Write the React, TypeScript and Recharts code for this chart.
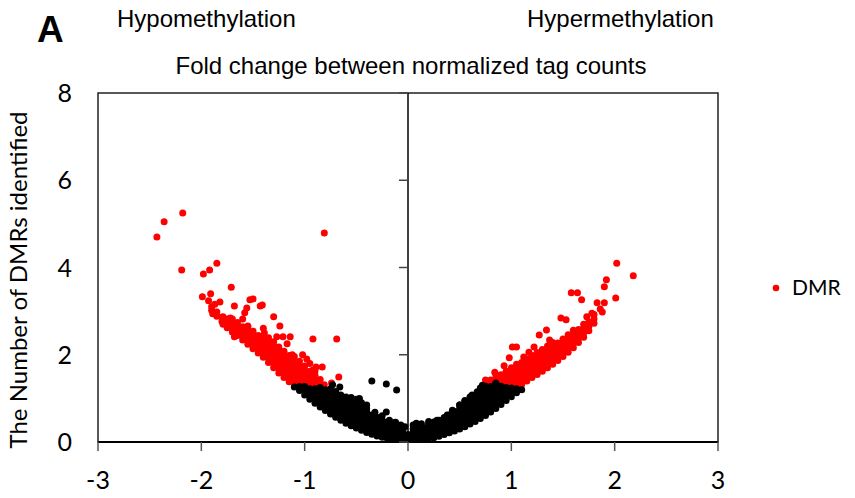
import React from 'react';
import { ScatterChart, Scatter, XAxis, YAxis, ReferenceLine, ReferenceArea } from 'recharts';

// chart frame
const W = 855;
const H = 498;
const MARGIN = { top: 93, right: 137, bottom: 16, left: 38 };
const Y_AXIS_W = 60;
const X_AXIS_H = 40;
const PLOT_LEFT = MARGIN.left + Y_AXIS_W;
const PLOT_RIGHT = W - MARGIN.right;
const ZERO_X = (PLOT_LEFT + PLOT_RIGHT) / 2;

const xTicks = [-3, -2, -1, 0, 1, 2, 3];
const yTicks = [0, 2, 4, 6, 8];

const titleText = 'Fold change between normalized tag counts';
const leftHeader = 'Hypomethylation';
const rightHeader = 'Hypermethylation';
const yLabel = 'The Number of DMRs identified';
const panelLetter = 'A';
const seriesName = 'DMR';

// [log fold change, value]
const blackLeft: [number, number][] = [
  [-1.1, 1.26],
  [-1.05, 1.18], [-1.05, 1.27],
  [-1.0, 1.08], [-1.0, 1.2], [-1.0, 1.27],
  [-0.95, 0.98], [-0.95, 1.1], [-0.95, 1.22],
  [-0.9, 0.89], [-0.9, 1.0], [-0.9, 1.12], [-0.9, 1.22],
  [-0.85, 0.8], [-0.85, 0.92], [-0.85, 1.04], [-0.85, 1.16], [-0.85, 1.25],
  [-0.8, 0.72], [-0.8, 0.84], [-0.8, 0.96], [-0.8, 1.08], [-0.8, 1.2],
  [-0.75, 0.64], [-0.75, 0.76], [-0.75, 0.88], [-0.75, 1.0], [-0.75, 1.12], [-0.75, 1.22],
  [-0.7, 0.57], [-0.7, 0.69], [-0.7, 0.81], [-0.7, 0.93], [-0.7, 1.05], [-0.7, 1.16],
  [-0.65, 0.5], [-0.65, 0.62], [-0.65, 0.74], [-0.65, 0.86], [-0.65, 0.98], [-0.65, 1.08],
  [-0.6, 0.43], [-0.6, 0.55], [-0.6, 0.67], [-0.6, 0.79], [-0.6, 0.9], [-0.6, 1.0],
  [-0.55, 0.37], [-0.55, 0.49], [-0.55, 0.61], [-0.55, 0.73], [-0.55, 0.85], [-0.55, 0.93],
  [-0.5, 0.32], [-0.5, 0.44], [-0.5, 0.56], [-0.5, 0.68], [-0.5, 0.8], [-0.5, 0.9],
  [-0.45, 0.27], [-0.45, 0.38], [-0.45, 0.5], [-0.45, 0.62], [-0.45, 0.74], [-0.45, 0.82],
  [-0.4, 0.22], [-0.4, 0.33], [-0.4, 0.45], [-0.4, 0.57], [-0.4, 0.68], [-0.4, 0.76],
  [-0.35, 0.18], [-0.35, 0.29], [-0.35, 0.4], [-0.35, 0.51], [-0.35, 0.62],
  [-0.3, 0.14], [-0.3, 0.25], [-0.3, 0.36], [-0.3, 0.47], [-0.3, 0.56],
  [-0.25, 0.11], [-0.25, 0.21], [-0.25, 0.32], [-0.25, 0.42], [-0.25, 0.5],
  [-0.2, 0.08], [-0.2, 0.18], [-0.2, 0.28], [-0.2, 0.38], [-0.2, 0.46],
  [-0.15, 0.06], [-0.15, 0.15], [-0.15, 0.25], [-0.15, 0.34], [-0.15, 0.42],
  [-0.1, 0.05], [-0.1, 0.13], [-0.1, 0.22], [-0.1, 0.3], [-0.1, 0.36],
  [-0.05, 0.04], [-0.05, 0.11], [-0.05, 0.19], [-0.05, 0.27],
  [0, 0.04], [0, 0.1], [0, 0.17],
  [-0.35, 1.4], [-0.21, 1.33], [-0.11, 1.19], [-0.21, 0.69], [-0.47, 1.0], [-0.4, 0.85],
  [-0.6, 1.03], [-0.66, 1.26], [-0.73, 1.31], [-0.07, 0.39], [-0.15, 0.44], [-0.29, 0.55],
  [-0.03, 0.35], [-0.12, 0.45], [-0.18, 0.5], [-0.25, 0.6], [-0.32, 0.68], [-0.45, 0.9],
  [-0.55, 1.02], [-0.5, 0.98],
];

const blackRight: [number, number][] = [
  [0.05, 0.04], [0.05, 0.12], [0.05, 0.2], [0.05, 0.3],
  [0.1, 0.05], [0.1, 0.13], [0.1, 0.22], [0.1, 0.3], [0.1, 0.38],
  [0.15, 0.06], [0.15, 0.15], [0.15, 0.24], [0.15, 0.33],
  [0.2, 0.08], [0.2, 0.17], [0.2, 0.26], [0.2, 0.35], [0.2, 0.42],
  [0.25, 0.1], [0.25, 0.2], [0.25, 0.3], [0.25, 0.4], [0.25, 0.46],
  [0.3, 0.13], [0.3, 0.23], [0.3, 0.33], [0.3, 0.43], [0.3, 0.5],
  [0.35, 0.17], [0.35, 0.27], [0.35, 0.37], [0.35, 0.47], [0.35, 0.56],
  [0.4, 0.21], [0.4, 0.31], [0.4, 0.42], [0.4, 0.52], [0.4, 0.62],
  [0.45, 0.25], [0.45, 0.36], [0.45, 0.47], [0.45, 0.58], [0.45, 0.7],
  [0.5, 0.3], [0.5, 0.41], [0.5, 0.52], [0.5, 0.64], [0.5, 0.76], [0.5, 0.85],
  [0.55, 0.35], [0.55, 0.47], [0.55, 0.59], [0.55, 0.71], [0.55, 0.83], [0.55, 0.92],
  [0.6, 0.41], [0.6, 0.53], [0.6, 0.65], [0.6, 0.77], [0.6, 0.89], [0.6, 1.0],
  [0.65, 0.47], [0.65, 0.59], [0.65, 0.71], [0.65, 0.83], [0.65, 0.95], [0.65, 1.07],
  [0.7, 0.54], [0.7, 0.66], [0.7, 0.78], [0.7, 0.9], [0.7, 1.02], [0.7, 1.14], [0.7, 1.24],
  [0.75, 0.61], [0.75, 0.73], [0.75, 0.85], [0.75, 0.97], [0.75, 1.09], [0.75, 1.2], [0.75, 1.28],
  [0.8, 0.69], [0.8, 0.81], [0.8, 0.93], [0.8, 1.05], [0.8, 1.17], [0.8, 1.27],
  [0.85, 0.77], [0.85, 0.89], [0.85, 1.01], [0.85, 1.13], [0.85, 1.25], [0.85, 1.33],
  [0.9, 0.86], [0.9, 0.98], [0.9, 1.1], [0.9, 1.2], [0.9, 1.28],
  [0.95, 0.95], [0.95, 1.07], [0.95, 1.17], [0.95, 1.25],
  [1.0, 1.04], [1.0, 1.15], [1.0, 1.24],
  [1.05, 1.13], [1.05, 1.22],
  [1.1, 1.2],
  [0.05, 0.39], [0.08, 0.43], [0.28, 0.5], [0.5, 0.85], [0.6, 1.03], [0.62, 1.08],
  [0.72, 1.3], [0.85, 1.35], [0.38, 0.62], [0.43, 0.73], [0.2, 0.47], [0.13, 0.42],
  [0.55, 0.95], [0.67, 1.15],
];

const redLeft: [number, number][] = [
  [-0.85, 1.33], [-0.85, 1.43],
  [-0.9, 1.33], [-0.9, 1.43], [-0.9, 1.53], [-0.9, 1.63],
  [-0.95, 1.32], [-0.95, 1.42], [-0.95, 1.52], [-0.95, 1.62],
  [-1.0, 1.34], [-1.0, 1.44], [-1.0, 1.54], [-1.0, 1.64], [-1.0, 1.74],
  [-1.05, 1.35], [-1.05, 1.45], [-1.05, 1.55], [-1.05, 1.65], [-1.05, 1.75], [-1.05, 1.85],
  [-1.1, 1.36], [-1.1, 1.46], [-1.1, 1.56], [-1.1, 1.66], [-1.1, 1.76], [-1.1, 1.86], [-1.1, 1.96],
  [-1.15, 1.38], [-1.15, 1.48], [-1.15, 1.58], [-1.15, 1.68], [-1.15, 1.78], [-1.15, 1.88], [-1.15, 1.98],
  [-1.2, 1.48], [-1.2, 1.58], [-1.2, 1.68], [-1.2, 1.78], [-1.2, 1.88], [-1.2, 1.98], [-1.2, 2.08],
  [-1.25, 1.58], [-1.25, 1.68], [-1.25, 1.78], [-1.25, 1.88], [-1.25, 1.98], [-1.25, 2.08], [-1.25, 2.18],
  [-1.3, 1.7], [-1.3, 1.8], [-1.3, 1.9], [-1.3, 2.0], [-1.3, 2.1], [-1.3, 2.2], [-1.3, 2.3],
  [-1.35, 1.82], [-1.35, 1.92], [-1.35, 2.02], [-1.35, 2.12], [-1.35, 2.22], [-1.35, 2.32],
  [-1.4, 1.94], [-1.4, 2.04], [-1.4, 2.14], [-1.4, 2.24], [-1.4, 2.34], [-1.4, 2.44],
  [-1.45, 2.04], [-1.45, 2.14], [-1.45, 2.24], [-1.45, 2.34], [-1.45, 2.44],
  [-1.5, 2.14], [-1.5, 2.24], [-1.5, 2.34], [-1.5, 2.44], [-1.5, 2.54],
  [-1.55, 2.24], [-1.55, 2.34], [-1.55, 2.44], [-1.55, 2.54], [-1.55, 2.64],
  [-1.6, 2.34], [-1.6, 2.44], [-1.6, 2.54], [-1.6, 2.64],
  [-1.65, 2.44], [-1.65, 2.54], [-1.65, 2.64], [-1.65, 2.74],
  [-1.7, 2.52], [-1.7, 2.62], [-1.7, 2.72], [-1.7, 2.82],
  [-1.75, 2.62], [-1.75, 2.72], [-1.75, 2.82],
  [-1.8, 2.76], [-1.8, 2.86],
  [-1.85, 2.88], [-1.85, 2.98],
  [-1.9, 3.02], [-1.9, 3.1],
  [-2.43, 4.7], [-2.36, 5.05], [-2.18, 5.25], [-2.19, 3.94], [-1.98, 3.85], [-1.92, 3.94],
  [-1.85, 4.1], [-0.81, 4.79], [-1.71, 3.55], [-1.99, 3.33], [-1.91, 3.4], [-1.93, 3.24],
  [-1.87, 3.16], [-1.82, 3.21], [-1.68, 3.12], [-1.53, 3.26], [-1.5, 3.28], [-1.56, 3.07],
  [-1.58, 2.96], [-1.43, 3.12], [-1.41, 3.14], [-1.3, 2.87], [-1.24, 2.66], [-1.4, 2.61],
  [-1.39, 2.5], [-1.89, 2.94], [-1.79, 2.87], [-1.72, 2.84], [-1.6, 2.82], [-1.79, 2.7],
  [-1.69, 2.61], [-1.68, 2.41], [-1.55, 2.66], [-1.27, 2.41], [-1.21, 2.41], [-1.14, 2.41],
  [-1.35, 2.39], [-0.92, 2.36], [-0.69, 2.36], [-1.17, 2.25], [-1.26, 2.16], [-1.12, 2.0],
  [-1.02, 2.0], [-1.07, 1.83], [-0.89, 1.72], [-0.83, 1.72], [-0.67, 1.49], [-0.74, 1.35],
  [-0.81, 1.31], [-0.92, 1.65], [-0.95, 1.8], [-0.98, 1.9],
];

const redRight: [number, number][] = [
  [0.75, 1.33], [0.75, 1.42],
  [0.8, 1.32], [0.8, 1.42],
  [0.85, 1.36], [0.85, 1.46], [0.85, 1.55],
  [0.9, 1.34], [0.9, 1.44], [0.9, 1.54],
  [0.95, 1.32], [0.95, 1.42], [0.95, 1.52], [0.95, 1.62],
  [1.0, 1.31], [1.0, 1.41], [1.0, 1.51], [1.0, 1.61], [1.0, 1.7],
  [1.05, 1.3], [1.05, 1.4], [1.05, 1.5], [1.05, 1.6], [1.05, 1.7], [1.05, 1.78],
  [1.1, 1.32], [1.1, 1.42], [1.1, 1.52], [1.1, 1.62], [1.1, 1.72], [1.1, 1.82],
  [1.15, 1.4], [1.15, 1.5], [1.15, 1.6], [1.15, 1.7], [1.15, 1.8], [1.15, 1.9],
  [1.2, 1.48], [1.2, 1.58], [1.2, 1.68], [1.2, 1.78], [1.2, 1.88], [1.2, 1.98],
  [1.25, 1.55], [1.25, 1.65], [1.25, 1.75], [1.25, 1.85], [1.25, 1.95], [1.25, 2.05],
  [1.3, 1.62], [1.3, 1.72], [1.3, 1.82], [1.3, 1.92], [1.3, 2.02], [1.3, 2.12],
  [1.35, 1.7], [1.35, 1.8], [1.35, 1.9], [1.35, 2.0], [1.35, 2.1], [1.35, 2.2],
  [1.4, 1.78], [1.4, 1.88], [1.4, 1.98], [1.4, 2.08], [1.4, 2.18], [1.4, 2.28],
  [1.45, 1.87], [1.45, 1.97], [1.45, 2.07], [1.45, 2.17], [1.45, 2.27],
  [1.5, 1.96], [1.5, 2.06], [1.5, 2.16], [1.5, 2.26], [1.5, 2.36],
  [1.55, 2.06], [1.55, 2.16], [1.55, 2.26], [1.55, 2.36], [1.55, 2.46],
  [1.6, 2.16], [1.6, 2.26], [1.6, 2.36], [1.6, 2.46], [1.6, 2.56],
  [1.65, 2.28], [1.65, 2.38], [1.65, 2.48], [1.65, 2.58],
  [1.7, 2.4], [1.7, 2.5], [1.7, 2.6], [1.7, 2.7],
  [1.75, 2.55], [1.75, 2.65], [1.75, 2.75],
  [1.8, 2.72], [1.8, 2.82], [1.8, 2.92],
  [0.76, 1.35], [0.84, 1.6], [0.98, 1.93], [1.01, 2.18], [1.05, 2.18], [1.17, 2.06],
  [1.27, 2.45], [1.34, 2.57], [1.37, 2.34], [1.48, 2.84], [1.53, 2.8], [1.58, 3.42],
  [1.64, 3.42], [1.68, 3.26], [1.73, 2.87], [1.83, 3.19], [1.9, 3.19], [1.92, 3.72],
  [1.9, 3.56], [2.01, 3.3], [2.02, 4.1], [2.18, 3.81], [1.86, 3.05], [1.88, 2.98],
  [1.78, 2.95], [0.93, 1.75], [1.12, 1.95], [1.22, 2.18],
];

const toRows = (pts: [number, number][]) => pts.map(([x, y]) => ({ x, y }));
const redData = toRows([...redLeft, ...redRight]);
const blackData = toRows([...blackLeft, ...blackRight]);

const TICK_FONT = 'Lato, "Open Sans", sans-serif';
const ARIAL = '"Liberation Sans", Arial, sans-serif';

const Dot = (color: string) => (props: any) => (
  <circle cx={props.cx} cy={props.cy} r={3.5} fill={color} />
);

const YTick = (props: any) => {
  const { y, payload } = props;
  return (
    <g>
      <line x1={ZERO_X - 9} x2={ZERO_X} y1={y} y2={y} stroke="#444" strokeWidth={1.5} />
      <text x={PLOT_LEFT - 26} y={y} dy="0.36em" textAnchor="end" fontFamily={TICK_FONT} fontSize={25} fill="#000">
        {payload.value}
      </text>
    </g>
  );
};

const XTick = (props: any) => {
  const { x, y, payload } = props;
  return (
    <text x={x} y={y + 36} textAnchor="middle" fontFamily={TICK_FONT} fontSize={25} fill="#000">
      {payload.value}
    </text>
  );
};

export default function App() {
  return (
    <div style={{ position: 'absolute', left: 0, top: 0, width: W, height: H, background: '#fff' }}>
      <ScatterChart width={W} height={H} margin={MARGIN}>
        <XAxis
          type="number"
          dataKey="x"
          domain={[-3, 3]}
          ticks={xTicks}
          height={X_AXIS_H}
          axisLine={{ stroke: '#000', strokeWidth: 2 }}
          tickLine={{ stroke: '#555', strokeWidth: 1.5 }}
          tickSize={9}
          tick={<XTick />}
          allowDataOverflow
        />
        <YAxis
          type="number"
          dataKey="y"
          domain={[0, 8]}
          ticks={yTicks}
          width={Y_AXIS_W}
          axisLine={false}
          tickLine={false}
          tick={<YTick />}
          allowDataOverflow
        />
        <ReferenceArea x1={-3} x2={3} y1={0} y2={8} fill="none" stroke="#222" strokeWidth={1.5} ifOverflow="visible" />
        <ReferenceLine x={0} stroke="#000" strokeWidth={1.5} />
        <Scatter name={seriesName} data={redData} shape={Dot('#ff0000')} isAnimationActive={false} />
        <Scatter name="other" data={blackData} shape={Dot('#000000')} isAnimationActive={false} legendType="none" />
      </ScatterChart>
      <svg width={W} height={H} style={{ position: 'absolute', left: 0, top: 0, pointerEvents: 'none' }}>
        <text x={37} y={42} fontFamily={ARIAL} fontWeight="bold" fontSize={37} fill="#000">{panelLetter}</text>
        <text x={117} y={27} fontFamily={ARIAL} fontSize={24} fill="#000">{leftHeader}</text>
        <text x={527} y={27} fontFamily={ARIAL} fontSize={24} fill="#000">{rightHeader}</text>
        <text x={411} y={74} textAnchor="middle" fontFamily={ARIAL} fontSize={24} fill="#000">{titleText}</text>
        <text
          x={27}
          y={280}
          transform="rotate(-90 27 280)"
          textAnchor="middle"
          fontFamily={TICK_FONT}
          fontSize={24}
          fill="#000"
        >
          {yLabel}
        </text>
        <circle cx={776} cy={288} r={3.3} fill="#ff0000" />
        <text x={792} y={295} fontFamily={TICK_FONT} fontSize={21} fill="#000">{seriesName}</text>
      </svg>
    </div>
  );
}
